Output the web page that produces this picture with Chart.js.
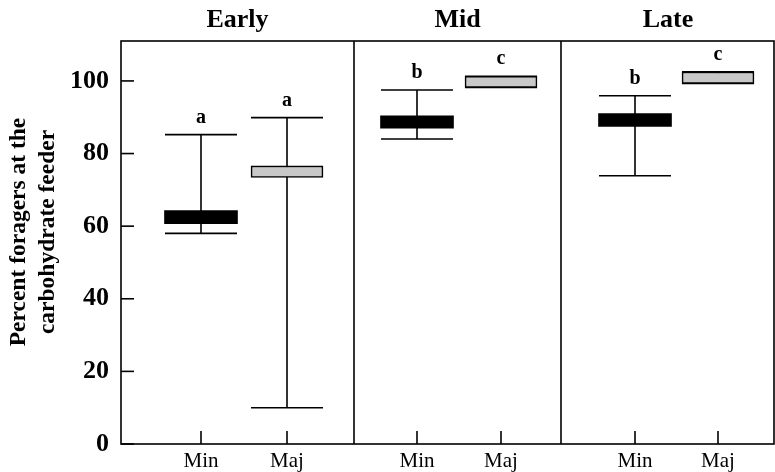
<!DOCTYPE html>
<html>
<head>
<meta charset="utf-8">
<script src="https://cdn.jsdelivr.net/npm/chart.js@4"></script>
<style>
  body { margin: 0; background: #fff; }
  #wrap { width: 775px; height: 472px; }
</style>
</head>
<body>
<div id="wrap"><canvas id="foragerChart" width="775" height="472"></canvas></div>
<script>
// data
const periods = ['Early', 'Mid', 'Late'];
const castes = ['Min', 'Maj'];
const minWhiskerLow = [58.0, 84.0, 73.9];
const minBoxLow = [60.7, 87.0, 87.5];
const minBoxHigh = [64.3, 90.4, 91.0];
const minWhiskerHigh = [85.2, 97.5, 95.9];
const majWhiskerLow = [10.0, 98.2, 99.3];
const majBoxLow = [73.4, 98.2, 99.3];
const majBoxHigh = [76.6, 101.3, 102.5];
const majWhiskerHigh = [89.9, 101.3, 102.5];
const minLetters = ['a', 'b', 'b'];
const majLetters = ['a', 'c', 'c'];
const yTicks = [0, 20, 40, 60, 80, 100];

// layout on the x axis (units = px from the left of the plot area)
const panelEdges = [0, 233, 440, 654];
const minPos = [80, 296, 514];
const majPos = [166, 380, 597];

const serif = '"Liberation Serif", "Times New Roman", serif';

const whiskers = [
    { pos: minPos, low: minWhiskerLow, high: minWhiskerHigh, letters: minLetters },
    { pos: majPos, low: majWhiskerLow, high: majWhiskerHigh, letters: majLetters }
];

const boxPlotExtras = {
    id: 'boxPlotExtras',
    beforeDatasetsDraw(chart) {
        const ctx = chart.ctx;
        const x = chart.scales.x, y = chart.scales.y;
        ctx.save();
        ctx.strokeStyle = '#000';
        ctx.lineWidth = 1.6;
        whiskers.forEach(w => {
            w.pos.forEach((p, i) => {
                const px = x.getPixelForValue(p);
                const top = y.getPixelForValue(w.high[i]);
                const bot = y.getPixelForValue(w.low[i]);
                ctx.beginPath();
                ctx.moveTo(px, top); ctx.lineTo(px, bot);
                ctx.moveTo(px - 36, top); ctx.lineTo(px + 36, top);
                ctx.moveTo(px - 36, bot); ctx.lineTo(px + 36, bot);
                ctx.stroke();
            });
        });
        ctx.restore();
    },
    afterDatasetsDraw(chart) {
        const ctx = chart.ctx;
        const area = chart.chartArea;
        const x = chart.scales.x, y = chart.scales.y;
        ctx.save();
        ctx.strokeStyle = '#000';
        ctx.lineWidth = 1.6;
        // frame and panel dividers
        ctx.strokeRect(area.left, area.top, area.right - area.left - 1, area.bottom - area.top);
        panelEdges.slice(1, -1).forEach(e => {
            const px = x.getPixelForValue(e);
            ctx.beginPath(); ctx.moveTo(px, area.top); ctx.lineTo(px, area.bottom); ctx.stroke();
        });
        // inward ticks
        yTicks.forEach(t => {
            const py = y.getPixelForValue(t);
            ctx.beginPath(); ctx.moveTo(area.left, py); ctx.lineTo(area.left + 13, py); ctx.stroke();
        });
        minPos.concat(majPos).forEach(p => {
            const px = x.getPixelForValue(p);
            ctx.beginPath(); ctx.moveTo(px, area.bottom); ctx.lineTo(px, area.bottom - 13); ctx.stroke();
        });
        // significance letters
        ctx.fillStyle = '#000';
        ctx.textAlign = 'center';
        ctx.textBaseline = 'middle';
        ctx.font = 'bold 20px ' + serif;
        whiskers.forEach(w => {
            w.pos.forEach((p, i) => {
                ctx.fillText(w.letters[i], x.getPixelForValue(p), y.getPixelForValue(w.high[i]) - 17);
            });
        });
        // panel titles
        ctx.font = 'bold 26px ' + serif;
        periods.forEach((name, i) => {
            const cx = (x.getPixelForValue(panelEdges[i]) + x.getPixelForValue(panelEdges[i + 1])) / 2;
            ctx.fillText(name, cx, 20);
        });
        // y axis title
        ctx.translate(33, 232);
        ctx.rotate(-Math.PI / 2);
        ctx.font = 'bold 23.5px ' + serif;
        ctx.fillText('Percent foragers at the', 0, -14);
        ctx.fillText('carbohydrate feeder', 0, 15);
        ctx.restore();
    }
};

const ctx = document.getElementById('foragerChart').getContext('2d');

new Chart(ctx, {
    type: 'bar',
    data: {
        datasets: [{
            label: 'Min',
            data: minPos.map((p, i) => ({ x: p, y: [minBoxLow[i], minBoxHigh[i]] })),
            backgroundColor: '#000',
            borderColor: '#000',
            borderWidth: 0,
            borderSkipped: false,
            barThickness: 73,
            grouped: false
        }, {
            label: 'Maj',
            data: majPos.map((p, i) => ({ x: p, y: [majBoxLow[i], majBoxHigh[i]] })),
            backgroundColor: '#c8c8c8',
            borderColor: '#000',
            borderWidth: 1.6,
            borderSkipped: false,
            barThickness: 72,
            grouped: false
        }]
    },
    options: {
        responsive: false,
        animation: false,
        layout: { padding: { top: 41, left: 0, right: 0, bottom: 0 } },
        scales: {
            x: {
                type: 'linear',
                min: panelEdges[0],
                max: panelEdges[3],
                offset: false,
                afterBuildTicks: scale => {
                    scale.ticks = minPos.concat(majPos).sort((a, b) => a - b).map(v => ({ value: v }));
                },
                afterFit: scale => { scale.height = 28; },
                ticks: {
                    autoSkip: false,
                    maxRotation: 0,
                    padding: 5,
                    color: '#000',
                    font: { family: serif, size: 21 },
                    callback: v => minPos.includes(v) ? castes[0] : castes[1]
                },
                grid: { display: false, drawTicks: false },
                border: { display: false }
            },
            y: {
                min: 0,
                max: 111,
                afterBuildTicks: scale => { scale.ticks = yTicks.map(v => ({ value: v })); },
                afterFit: scale => { scale.width = 121; },
                ticks: {
                    padding: 12,
                    color: '#000',
                    font: { family: serif, size: 26, weight: 'bold' }
                },
                grid: { display: false, drawTicks: false },
                border: { display: false }
            }
        },
        plugins: {
            legend: { display: false },
            tooltip: { enabled: false }
        }
    },
    plugins: [boxPlotExtras]
});
</script>
</body>
</html>
